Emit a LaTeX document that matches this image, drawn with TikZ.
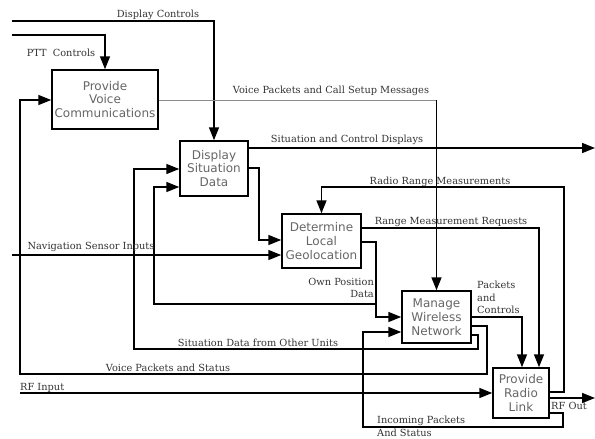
\documentclass[tikz,border=0pt]{standalone}
\usepackage{fontspec}
\usetikzlibrary{arrows.meta}
\newfontfamily\lblfont{DejaVu Serif}
\newfontfamily\boxfont{DejaVu Sans}
\begin{document}
\begin{tikzpicture}[x=1pt,y=-1pt,
  box/.style={draw=black,line width=1.5pt,fill=white,inner sep=0pt,align=center,
    font=\boxfont\fontsize{12}{13.8}\selectfont,text=black!60},
  arr/.style={line width=1.6pt,-{Triangle[length=13pt,width=10pt]}},
  thinln/.style={line width=0.7pt,draw=black!45},
  lbl/.style={font=\lblfont\fontsize{9.8}{12.5}\selectfont,text=black!80,inner sep=0pt}]
\useasboundingbox (0,0) rectangle (595,439);

% boxes
\node[box,minimum width=106pt,minimum height=59pt] (pvc) at (105,99.5) {Provide\\Voice\\Communications};
\node[box,minimum width=68pt,minimum height=55pt] (dsd) at (214,168.5) {Display\\Situation\\Data};
\node[box,minimum width=79pt,minimum height=54pt] (dlg) at (321.5,241) {Determine\\Local\\Geolocation};
\node[box,minimum width=69pt,minimum height=52pt] (mwn) at (436.5,317) {Manage\\Wireless\\Network};
\node[box,minimum width=56pt,minimum height=50pt] (prl) at (521,393) {Provide\\Radio\\Link};

% free ends
\coordinate (dcin) at (12,21);
\coordinate (pttin) at (12,35);
\coordinate (navin) at (12,255);
\coordinate (rfin) at (20,393);
\coordinate (scdout) at (595,148);
\coordinate (rfout) at (595,398);
\coordinate (vpc) at (436.5,100);
\coordinate (opj) at (376,304);

% connectors
\draw[arr] (dcin) -| (dsd.north);
\draw[arr] (pttin) -| (pvc.north);
\draw[thinln] (pvc.east |- 0,100) -- (vpc);
\draw[arr] (vpc) -- (mwn.north);
\draw[arr] (dsd.east |- 0,148) -- (scdout);
\draw[arr] (prl.east |- 0,392) -- (564,392) -- (564,187) -| (dlg.north);
\draw[arr] (dlg.east |- 0,228) -| (prl.north -| 539,0);
\draw[arr] (dlg.east |- 0,242) -- (376,242) |- (mwn.west);
\draw[arr] (opj) -| (154,187) -- (dsd.west |- 0,187);
\draw[arr] (navin) -- (dlg.west |- 0,255);
\draw[arr] (dsd.east |- 0,168) -- (259,168) |- (dlg.west |- 0,240);
\draw[arr] (mwn.east |- 0,335) -- (478,335) -- (478,349) -- (134,349) -- (134,169) -- (dsd.west |- 0,169);
\draw[arr] (mwn.east |- 0,326) -- (487,326) -- (487,374) -- (20,374) -- (20,100) -- (pvc.west |- 0,100);
\draw[arr] (rfin) -- (prl.west |- 0,393);
\draw[arr] (mwn.east) -| (prl.north -| 522,0);
\draw[arr] (prl.east |- 0,413) -- (563,413) -- (563,427) -- (363,427) -- (363,332) -- (mwn.west |- 0,332);
\draw[arr] (prl.east |- 0,398) -- (rfout);

% labels
\node[lbl] (t1) at (158,15) {Display Controls};
\node[lbl] (t2) at (61,53) {PTT\ \ Controls};
\node[lbl] (t3) at (331,91) {Voice Packets and Call Setup Messages};
\node[lbl] (t4) at (347,140) {Situation and Control Displays};
\node[lbl] (t5) at (440,182) {Radio Range Measurements};
\node[lbl] (t6) at (451,222) {Range Measurement Requests};
\node[lbl,align=right,anchor=east] (t7) at (374,288) {Own Position\\Data};
\node[lbl] (t8) at (91,247) {Navigation Sensor Inputs};
\node[lbl,align=left,anchor=north west] (t9) at (477,281) {Packets\\and\\Controls};
\node[lbl] (t10) at (258,343) {Situation Data from Other Units};
\node[lbl] (t11) at (168,368) {Voice Packets and Status};
\node[lbl,anchor=west] (t12) at (20,388) {RF Input};
\node[lbl] (t13) at (569,406) {RF Out};
\node[lbl,align=left,anchor=north west] (t14) at (377,416) {Incoming Packets\\And Status};
\end{tikzpicture}
\end{document}
